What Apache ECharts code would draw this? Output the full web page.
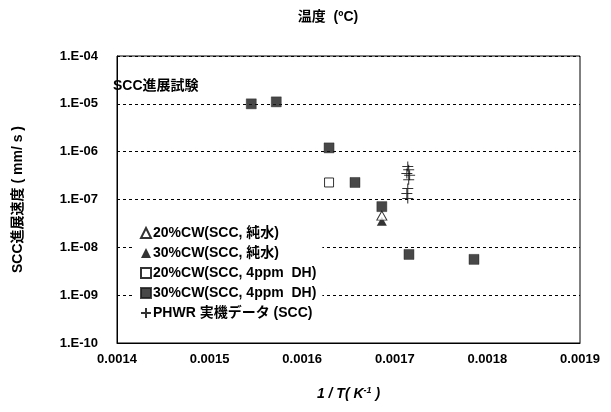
<!DOCTYPE html>
<html>
<head>
<meta charset="utf-8">
<script src="https://cdn.jsdelivr.net/npm/echarts@6/dist/echarts.min.js"></script>
<style>
  html, body { margin: 0; padding: 0; background: #fff; }
  #chart { width: 611px; height: 412px; }
</style>
</head>
<body>
<div id="chart"></div>
<script>
// 1/T (K^-1) versus SCC growth rate (mm/s)
const FONT = '"Liberation Sans", Arial, "Noto Sans CJK JP", sans-serif';

const xTicks = [0.0014, 0.0015, 0.0016, 0.0017, 0.0018, 0.0019];
const yTickLabels = ['1.E-10', '1.E-09', '1.E-08', '1.E-07', '1.E-06', '1.E-05', '1.E-04'];

// temperature scale along the top: label text and its 1/T position
const tempLabels = ['360', '310', '280'];
const tempPos = [0.001545, 0.001699, 0.00179];

// 20%CW, pure water
const cw20Water = [[0.001686, 4.6e-8]];
// 30%CW, pure water
const cw30Water = [[0.001686, 3.5e-8]];
// 20%CW, 4ppm DH
const cw20DH = [[0.001629, 2.27e-7]];
// 30%CW, 4ppm DH
const cw30DH = [
  [0.001545, 1.0e-5],
  [0.001572, 1.1e-5],
  [0.001629, 1.2e-6],
  [0.001657, 2.27e-7],
  [0.001686, 7.1e-8],
  [0.0017153, 7.1e-9],
  [0.0017855, 5.6e-9]
];
// PHWR plant data
const phwr = [
  [0.001714, 4.9e-7],
  [0.001715, 4.2e-7],
  [0.001713, 3.5e-7],
  [0.001716, 3.2e-7],
  [0.001715, 2.6e-7],
  [0.001714, 1.7e-7],
  [0.001713, 1.33e-7],
  [0.001714, 1.05e-7]
];

const names = [
  '20%CW(SCC, 純水)',
  '30%CW(SCC, 純水)',
  '20%CW(SCC, 4ppm  DH)',
  '30%CW(SCC, 4ppm  DH)',
  'PHWR 実機データ (SCC)'
];

const crossPath = 'path://M5,0 L5,10 M0,5 L10,5';

const chart = echarts.init(document.getElementById('chart'), null, { renderer: 'canvas' });

const option = {
  animation: false,
  backgroundColor: '#fff',
  textStyle: { fontFamily: FONT },
  title: [
    {
      text: 'SCC進展試験', left: 108, top: 74,
      textStyle: { fontFamily: FONT, fontSize: 14, fontWeight: 'bold', color: '#000' }
    },
    {
      text: '温度  (ºC)', left: 323, top: 5, textAlign: 'center',
      textStyle: { fontFamily: FONT, fontSize: 14, fontWeight: 'bold', color: '#000' }
    }
  ],
  grid: {
    left: 117, right: 31, top: 56, bottom: 69,
    show: true, borderColor: '#000', borderWidth: 1, backgroundColor: 'transparent'
  },
  legend: {
    orient: 'vertical',
    left: 135, top: 219,
    padding: [6, 6, 5, 5],
    backgroundColor: '#fff',
    itemWidth: 10, itemHeight: 10, itemGap: 4,
    data: names,
    textStyle: { fontFamily: FONT, fontSize: 14, fontWeight: 'bold', color: '#000', padding: [0, 0, 0, -3], lineHeight: 16 }
  },
  xAxis: {
    type: 'value',
    min: xTicks[0], max: xTicks[xTicks.length - 1], interval: 0.0001,
    splitLine: { show: false },
    axisLine: { show: true, lineStyle: { color: '#000' } },
    axisTick: { show: false },
    axisLabel: {
      color: '#000', fontFamily: FONT, fontSize: 13, fontWeight: 'bold', margin: 10,
      formatter: v => v.toFixed(4)
    },
    name: '{a|1 / }{b|T}{a|( K}{s|-1}{a| )}',
    nameLocation: 'middle', nameGap: 43,
    nameTextStyle: {
      rich: {
        a: { fontFamily: FONT, fontSize: 14, fontWeight: 'bold', fontStyle: 'italic', color: '#000' },
        b: { fontFamily: FONT, fontSize: 14, fontWeight: 'bold', fontStyle: 'italic', color: '#000' },
        s: { fontFamily: FONT, fontSize: 9, fontWeight: 'bold', fontStyle: 'italic', color: '#000', verticalAlign: 'top', padding: [0, 0, 7, 0] }
      }
    }
  },
  yAxis: {
    type: 'log', logBase: 10, min: 1e-10, max: 1e-4,
    axisLine: { show: true, lineStyle: { color: '#000' } },
    axisTick: { show: false },
    splitLine: { show: true, lineStyle: { color: '#000', type: [3, 3], width: 1 } },
    axisLabel: {
      color: '#000', fontFamily: FONT, fontSize: 13, fontWeight: 'bold', margin: 19,
      formatter: v => yTickLabels[Math.round(Math.log10(v)) + 10]
    },
    name: 'SCC進展速度 ( mm/ s )',
    nameLocation: 'middle', nameGap: 92, nameRotate: 90,
    nameTextStyle: { fontFamily: FONT, fontSize: 14, fontWeight: 'bold', color: '#000' }
  },
  series: [
    {
      name: names[3], type: 'scatter', data: cw30DH, z: 5,
      symbol: 'rect', symbolSize: 10,
      itemStyle: { color: '#1a1a1a', borderColor: '#1a1a1a', borderWidth: 0.5 }
    },
    {
      name: names[0], type: 'scatter', data: cw20Water, z: 4,
      symbol: 'triangle', symbolSize: [10, 9],
      itemStyle: { color: '#fff', borderColor: '#000', borderWidth: 1 }
    },
    {
      name: names[1], type: 'scatter', data: cw30Water, z: 3,
      symbol: 'triangle', symbolSize: [10, 9],
      itemStyle: { color: '#000' }
    },
    {
      name: names[2], type: 'scatter', data: cw20DH, z: 4,
      symbol: 'rect', symbolSize: 9,
      itemStyle: { color: '#fff', borderColor: '#000', borderWidth: 1 }
    },
    {
      name: names[4], type: 'scatter', data: phwr, z: 6,
      symbol: crossPath, symbolSize: [11, 10],
      itemStyle: { color: 'transparent', borderColor: '#000', borderWidth: 1 }
    },
    {
      // temperature labels above the plot frame
      name: 'temperature', type: 'scatter', symbol: 'none', symbolSize: 0,
      silent: true, clip: false,
      data: tempPos.map((x, i) => [x, 1e-4, tempLabels[i]]),
      label: {
        show: true, position: 'top', distance: 8,
        formatter: p => p.value[2],
        fontFamily: FONT, fontSize: 13, fontWeight: 'bold', color: '#000'
      }
    }
  ]
};

chart.setOption(option);
</script>
</body>
</html>
